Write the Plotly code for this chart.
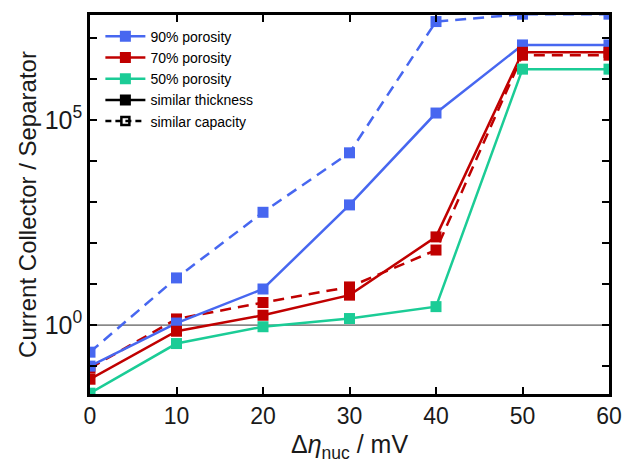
import plotly.graph_objects as go

x_mv = [0, 10, 20, 30, 40, 50, 60]

# log10 of Current Collector / Separator ratio
thick_90 = [-1.00, 0.05, 0.88, 2.93, 5.17, 6.83, 6.83]
thick_70 = [-1.32, -0.15, 0.24, 0.73, 2.15, 6.65, 6.65]
thick_50 = [-1.66, -0.45, -0.04, 0.16, 0.45, 6.24, 6.24]
cap_90 = [-0.66, 1.15, 2.75, 4.20, 7.40, 7.58, 7.58]
cap_70 = [-1.05, 0.15, 0.55, 0.93, 1.83, 6.58, 6.58]

labels = ["90% porosity", "70% porosity", "50% porosity"]
colors = ["#4767f0", "#c00000", "#1bcc96"]

y_label_exp = [0, 5]
y_label_text = ["10<sup>0</sup>", "10<sup>5</sup>"]
y_minor_exp = [-1, 1, 2, 3, 4, 6, 7]

fig = go.Figure()

def pw(v):
    return [10 ** a for a in v]

# dashed (similar capacity)
for vals, col in [(cap_90, colors[0]), (cap_70, colors[1])]:
    fig.add_trace(go.Scatter(x=x_mv, y=pw(vals), mode="lines+markers",
                             line=dict(color=col, width=2.5, dash="11px,7px"),
                             marker=dict(symbol="square", size=11, color=col),
                             showlegend=False))

# solid (similar thickness)
for vals, name, col in [(thick_90, labels[0], colors[0]),
                        (thick_70, labels[1], colors[1]),
                        (thick_50, labels[2], colors[2])]:
    fig.add_trace(go.Scatter(x=x_mv, y=pw(vals), mode="lines+markers", name=name,
                             line=dict(color=col, width=2.5),
                             marker=dict(symbol="square", size=11, color=col)))

# legend-only entries
fig.add_trace(go.Scatter(x=[None], y=[None], mode="lines+markers", name="similar thickness",
                         line=dict(color="black", width=2.5),
                         marker=dict(symbol="square", size=11, color="black")))
fig.add_trace(go.Scatter(x=[None], y=[None], mode="lines+markers", name="similar capacity",
                         line=dict(color="black", width=2.5, dash="6px,4px"),
                         marker=dict(symbol="square-open", size=8, color="black",
                                     line=dict(width=2.5))))

fig.add_hline(y=1, line=dict(color="#333333", width=1), layer="below")

fig.update_layout(
    width=624, height=473,
    margin=dict(l=90, r=15, t=15, b=79, autoexpand=False),
    paper_bgcolor="white", plot_bgcolor="white",
    font=dict(family="Liberation Sans, Arial, sans-serif", color="#1a1a1a"),
    legend=dict(x=0.02, y=0.985, xanchor="left", yanchor="top",
                bgcolor="rgba(0,0,0,0)", font=dict(size=14, color="black"),
                tracegroupgap=0, itemsizing="trace", itemwidth=40),
    xaxis=dict(range=[0, 60], tickvals=x_mv, ticks="inside", ticklen=7,
               tickwidth=2, tickcolor="black", showline=True, linewidth=2.5,
               linecolor="black", mirror="ticks", showgrid=False, zeroline=False,
               automargin=False, tickfont=dict(size=23),
               title=dict(text="Δ<i>η</i><sub>nuc</sub> / mV", font=dict(size=25), standoff=8)),
    yaxis=dict(type="log", range=[-1.68, 7.56], tickvals=[10 ** e for e in y_label_exp],
               ticktext=y_label_text, ticks="inside", ticklen=7, tickwidth=2,
               tickcolor="black", showline=True, linewidth=2.5, linecolor="black",
               mirror="ticks", showgrid=False, zeroline=False, automargin=False,
               minor=dict(tickvals=[10 ** e for e in y_minor_exp], ticks="inside",
                          ticklen=7, tickwidth=2, tickcolor="black", showgrid=False),
               tickfont=dict(size=25),
               title=dict(text="Current Collector / Separator", font=dict(size=24), standoff=2)),
)

fig.write_html("out.html", config={"displayModeBar": False},
               post_script="document.body.style.margin='0';document.body.style.overflow='hidden';")
